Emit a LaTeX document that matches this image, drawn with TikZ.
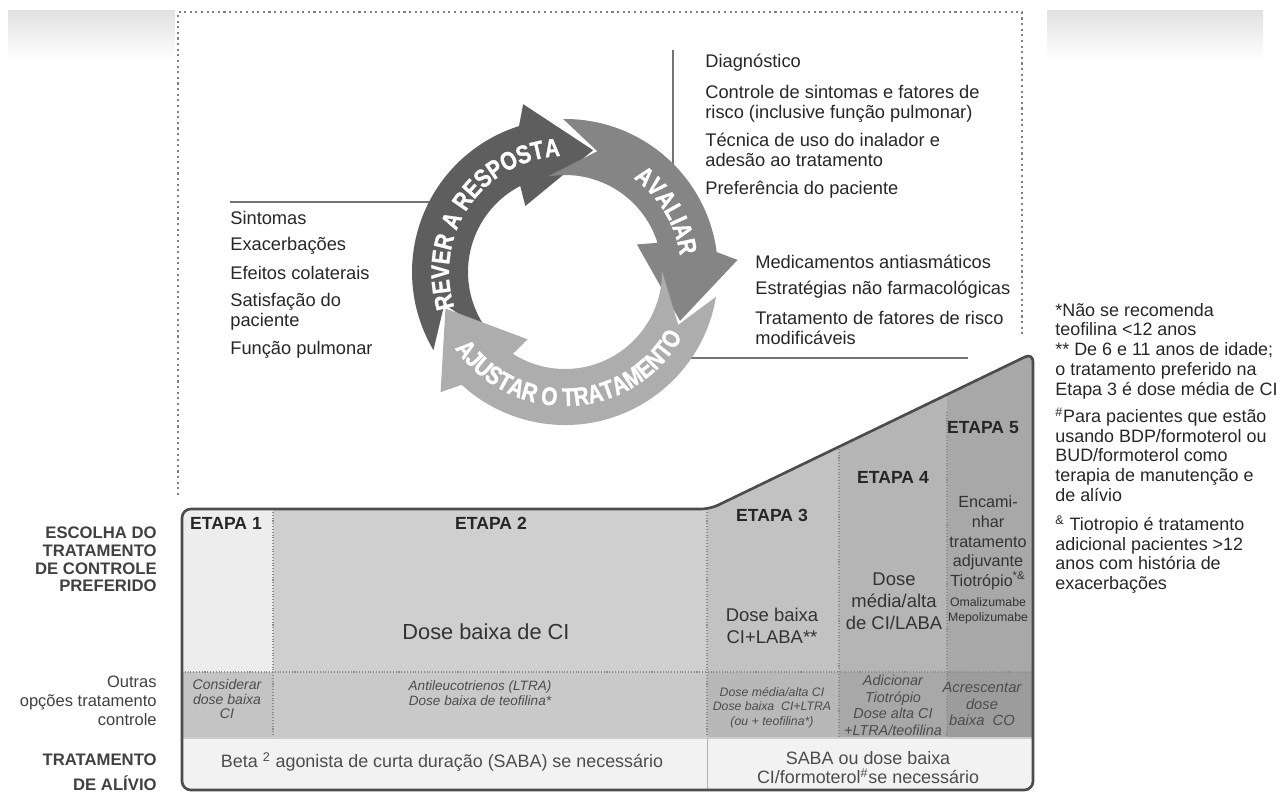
\documentclass[tikz,border=0pt]{standalone}
\usepackage{fontspec}
\setmainfont{Liberation Sans}
\newfontfamily\arcfont[FakeStretch=0.82, FakeBold=1.2]{Liberation Sans}
\newcommand{\arcfmt}{\arcfont\fontsize{14.5}{16}\selectfont\bfseries}
\usetikzlibrary{decorations.text}

\definecolor{cycDark}{gray}{0.37}
\definecolor{cycMid}{gray}{0.52}
\definecolor{cycLight}{gray}{0.68}
\definecolor{stepA}{gray}{0.93}
\definecolor{stepB}{gray}{0.81}
\definecolor{stepC}{gray}{0.76}
\definecolor{stepD}{gray}{0.71}
\definecolor{stepE}{gray}{0.66}
\definecolor{optA}{gray}{0.77}
\definecolor{optB}{gray}{0.79}
\definecolor{optC}{gray}{0.72}
\definecolor{optD}{gray}{0.66}
\definecolor{optE}{gray}{0.61}
\definecolor{reliefFill}{gray}{0.95}

% #1 colour, #2 tip angle, #3 tip angle of the arrow before
\newcommand{\cyclearrow}[3]{%
  \fill[#1] ({#3+13.7}:153) arc[start angle={#3+13.7}, end angle={#2+30.5}, radius=153]
    -- ({#2+27}:173) -- (#2:125) -- ({#2+44}:77) -- ({#2+40.5}:97)
    arc[start angle={#2+40.5}, end angle={#3+23.5}, radius=97] -- ({#3-2}:125) -- cycle;}

\begin{document}
\begin{tikzpicture}[x=0.02cm, y=-0.02cm,
  item/.style={anchor=west, inner sep=0pt, align=left, text=black!85, font=\fontsize{10.4}{11.4}\selectfont},
  note/.style={anchor=west, inner sep=0pt, align=left, text=black!85, font=\fontsize{10.2}{11.2}\selectfont},
  rowlbl/.style={anchor=east, inner sep=0pt, align=right, text=black!75, font=\fontsize{9.5}{10}\selectfont\bfseries},
  etapa/.style={inner sep=0pt, text=black!85, font=\fontsize{10}{12}\selectfont\bfseries},
  dose/.style={inner sep=0pt, align=center, text=black!80, font=\fontsize{10.5}{12.5}\selectfont},
  opt/.style={inner sep=0pt, align=center, text=black!70, font=\fontsize{8}{8.2}\selectfont\itshape},
  sep/.style={densely dotted, black!45, line width=0.6pt},
  guide/.style={black!55, line width=0.8pt},
  arctext/.style={decorate, decoration={text along path, text align=center, text color=white,
    text={|\arcfmt|#1}}}]
\useasboundingbox (0,0) rectangle (1283,792);

\shade[top color=black!12, bottom color=white] (8,10) rectangle (175,60);
\shade[top color=black!12, bottom color=white] (1047,10) rectangle (1263,60);
\draw[black!50, line width=1.2pt, dotted] (178,495) -- (178,12) -- (1022,12) -- (1022,335);

\coordinate (cyc) at (565,272);
\coordinate (gl) at (230,202);
\coordinate (gt) at (673,50);
\coordinate (gr) at (968,358);
\draw[guide] (gl) -- (430,202);
\draw[guide] (gt) -- (673,170);
\draw[guide] (gr) -- (690,358);

\begin{scope}[shift={(cyc)}, y=0.02cm]
  \cyclearrow{cycDark}{77}{197}
  \cyclearrow{cycMid}{-23}{77}
  \cyclearrow{cycLight}{-163}{-23}
  \path[arctext={REVER A RESPOSTA}] (214:116) arc[start angle=214, end angle=76, radius=116];
  \path[arctext={AVALIAR}] (72:116) arc[start angle=72, end angle=-10, radius=116];
  \path[arctext={AJUSTAR O TRATAMENTO}] (203:134) arc[start angle=203, end angle=343, radius=134];
\end{scope}

\node[item] (sint) at (230,218) {Sintomas};
\node[item] (exac) at (230,246) {Exacerbações};
\node[item] (efei) at (230,273) {Efeitos colaterais};
\node[item] (sati) at (230,312) {Satisfação do\\paciente};
\node[item] (func) at (230,350) {Função pulmonar};

\node[item] (diag) at (705,63) {Diagnóstico};
\node[item] (ctrl) at (705,103.5) {Controle de sintomas e fatores de\\risco (inclusive função pulmonar)};
\node[item] (tecn) at (705,149.5) {Técnica de uso do inalador e\\adesão ao tratamento};
\node[item] (pref) at (705,190) {Preferência do paciente};

\node[item] (medi) at (755,262) {Medicamentos antiasmáticos};
\node[item] (estr) at (755,290) {Estratégias não farmacológicas};
\node[item] (trat) at (755,327.5) {Tratamento de fatores de risco\\modificáveis};

\node[note] (nota1) at (1055,351) {*Não se recomenda\\teofilina <12 anos\\** De 6 e 11 anos de idade;\\o tratamento preferido na\\Etapa 3 é dose média de CI};
\node[note] (nota2) at (1055,454.5) {\textsuperscript{\#}Para pacientes que estão\\usando BDP/formoterol ou\\BUD/formoterol como\\terapia de manutenção e\\de alívio};
\node[note] (nota3) at (1055,554.5) {\textsuperscript{\&} Tiotropio é tratamento\\adicional pacientes >12\\anos com história de\\exacerbações};

\node[rowlbl] (escolha) at (157,559.5) {ESCOLHA DO\\TRATAMENTO\\DE CONTROLE\\PREFERIDO};
\node[rowlbl, font=\fontsize{9.4}{10.8}\selectfont] (outras) at (157,701) {Outras\\opções tratamento\\controle};
\node[rowlbl, font=\fontsize{9.5}{14}\selectfont\bfseries] (alivio) at (157,772.5) {TRATAMENTO\\DE ALÍVIO};

\begin{scope}
  \clip[rounded corners=5pt] (182,790) -- (182,509) -- (710,509) -- (1033,353) -- (1033,790) -- cycle;
  \fill[stepA] (182,500) rectangle (273,672);
  \fill[stepB] (273,500) rectangle (707,672);
  \fill[stepC] (707,672) -- (707,500) -- (839,440) -- (839,672) -- cycle;
  \fill[stepD] (839,672) -- (839,440) -- (947,390) -- (947,672) -- cycle;
  \fill[stepE] (947,672) -- (947,390) -- (1040,340) -- (1040,672) -- cycle;
  \fill[optA] (182,672) rectangle (273,738);
  \fill[optB] (273,672) rectangle (707,738);
  \fill[optC] (707,672) rectangle (839,738);
  \fill[optD] (839,672) rectangle (947,738);
  \fill[optE] (947,672) rectangle (1040,738);
  \fill[reliefFill] (182,738) rectangle (1040,795);
\end{scope}
\foreach \x/\t in {273/512, 707/512, 839/449, 947/412}
  \draw[sep] (\x,\t) -- (\x,738);
\draw[sep] (182,672) -- (1033,672);
\draw[black!20, line width=0.8pt] (182,738) -- (1033,738);
\draw[black!30] (707,738) -- (707,790);
\draw[black!70, line width=1.5pt, rounded corners=5pt] (182,790) -- (182,509) -- (710,509) -- (1033,353) -- (1033,790) -- cycle;

\node[etapa] (et1) at (226,523) {ETAPA 1};
\node[etapa] (et2) at (491,523) {ETAPA 2};
\node[etapa] (et3) at (772,515) {ETAPA 3};
\node[etapa] (et4) at (893,477) {ETAPA 4};
\node[etapa] (et5) at (983,428) {ETAPA 5};

\node[dose, font=\fontsize{12.4}{14}\selectfont] (d2) at (486,632) {Dose baixa de CI};
\node[dose] (d3) at (772,626) {Dose baixa\\CI+LABA**};
\node[dose] (d4) at (894,601) {Dose\\média/alta\\de CI/LABA};
\node[dose, font=\fontsize{9.2}{11.2}\selectfont] (d5) at (988,543) {Encami-\\nhar\\tratamento\\adjuvante\\Tiotrópio\textsuperscript{*\&}};
\node[dose, font=\fontsize{7}{8.5}\selectfont] (d5b) at (988,611) {Omalizumabe\\Mepolizumabe};

\node[opt] (o1) at (227,699) {Considerar\\dose baixa\\CI};
\node[opt, font=\fontsize{7.7}{8.5}\selectfont\itshape] (o2) at (480,693) {Antileucotrienos (LTRA)\\Dose baixa de teofilina*};
\node[opt, font=\fontsize{7}{8.2}\selectfont\itshape] (o3) at (772,707.5) {Dose média/alta CI\\Dose baixa\ \ CI+LTRA\\(ou + teofilina*)};
\node[opt, font=\fontsize{8.2}{9.4}\selectfont\itshape] (o4) at (893,705.5) {Adicionar\\Tiotrópio\\Dose alta CI\\+LTRA/teofilina};
\node[opt, font=\fontsize{8.4}{9.4}\selectfont\itshape] (o5) at (982,704) {Acrescentar\\dose\\baixa\ \ CO};

\node[dose, font=\fontsize{10.2}{12}\selectfont, text=black!70] (r1) at (442,762) {Beta \textsuperscript{2} agonista de curta duração (SABA) se necessário};
\node[dose, font=\fontsize{10.2}{10.8}\selectfont, text=black!70] (r2) at (868,767.5) {SABA ou dose baixa\\CI/formoterol\textsuperscript{\#}se necessário};
\end{tikzpicture}
\end{document}
